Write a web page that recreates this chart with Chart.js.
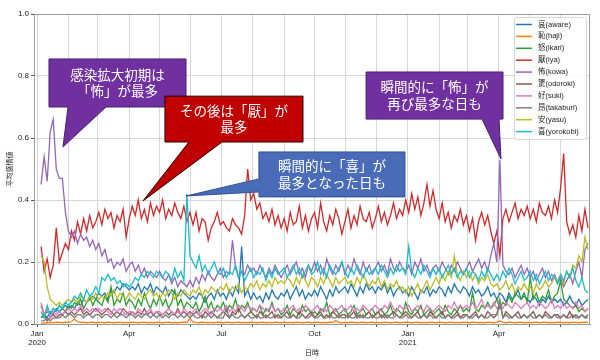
<!DOCTYPE html>
<html>
<head>
<meta charset="utf-8">
<script src="https://cdn.jsdelivr.net/npm/chart.js@4.4.1/dist/chart.umd.min.js"></script>
<style>
  html, body { margin: 0; padding: 0; background: #fff; }
  #wrap { width: 600px; height: 360px; }
  canvas { display: block; }
</style>
</head>
<body>
<div id="wrap"><canvas id="emotionChart" width="600" height="360"></canvas></div>
<script>
// series labels, in legend order
const emotions = ["哀(aware)", "恥(haji)", "怒(ikari)", "厭(iya)", "怖(kowa)",
                  "驚(odoroki)", "好(suki)", "昂(takaburi)", "安(yasu)", "喜(yorokobi)"];

// sampling: first value on 2020-01-05, then every 3 days
const startDate = "2020-01-05";
const stepDays = 3;

// tick labels
const monthNames = ["Jan", "Feb", "Mar", "Apr", "May", "Jun", "Jul", "Aug", "Sep", "Oct", "Nov", "Dec"];
const labelledMonths = [0, 3, 6, 9];

// one row ~ one month (10 samples)
const aware = [
  0.02,0.03,0.02,0.04,0.03,0.05,0.04,0.05,0.06,0.05,
  0.06,0.05,0.07,0.06,0.08,0.07,0.08,0.09,0.08,0.1,
  0.09,0.1,0.08,0.11,0.1,0.12,0.11,0.13,0.12,0.11,
  0.12,0.11,0.13,0.1,0.12,0.11,0.13,0.1,0.12,0.11,
  0.1,0.12,0.09,0.11,0.1,0.09,0.11,0.1,0.09,0.08,
  0.09,0.08,0.1,0.09,0.07,0.09,0.1,0.08,0.11,0.09,
  0.1,0.08,0.11,0.09,0.12,0.1,0.25,0.09,0.11,0.08,
  0.1,0.08,0.09,0.07,0.1,0.08,0.11,0.09,0.08,0.1,
  0.09,0.11,0.08,0.1,0.12,0.09,0.11,0.08,0.1,0.09,
  0.11,0.09,0.12,0.1,0.08,0.11,0.09,0.12,0.1,0.11,
  0.12,0.1,0.13,0.11,0.09,0.12,0.1,0.13,0.11,0.12,
  0.1,0.12,0.11,0.13,0.1,0.12,0.09,0.11,0.12,0.1,
  0.11,0.09,0.12,0.1,0.08,0.11,0.1,0.12,0.09,0.11,
  0.1,0.12,0.11,0.09,0.12,0.1,0.13,0.11,0.1,0.12,
  0.11,0.09,0.12,0.1,0.11,0.09,0.1,0.12,0.09,0.1,
  0.08,0.1,0.09,0.07,0.1,0.08,0.09,0.11,0.08,0.09,
  0.08,0.07,0.09,0.08,0.06,0.08,0.07,0.09,0.07,0.08,
  0.07,0.08,0.06,0.07,0.09,0.07,0.06,0.08,0.06,0.07,
  0.08
];
const haji = [
  0.002,0.003,0.004,0.005,0.004,0.006,0.005,0.004,0.006,0.005,
  0.008,0.016,0.007,0.005,0.006,0.004,0.005,0.006,0.004,0.005,
  0.005,0.004,0.006,0.005,0.004,0.005,0.006,0.004,0.005,0.004,
  0.006,0.005,0.004,0.005,0.006,0.004,0.005,0.004,0.006,0.005,
  0.004,0.005,0.006,0.004,0.005,0.004,0.005,0.006,0.005,0.018,
  0.007,0.005,0.004,0.006,0.005,0.004,0.005,0.004,0.006,0.005,
  0.004,0.006,0.005,0.004,0.005,0.006,0.004,0.005,0.004,0.006,
  0.005,0.004,0.005,0.006,0.004,0.005,0.004,0.006,0.005,0.004,
  0.006,0.004,0.005,0.004,0.006,0.005,0.004,0.005,0.006,0.004,
  0.005,0.006,0.004,0.005,0.004,0.006,0.005,0.011,0.005,0.004,
  0.005,0.004,0.006,0.005,0.004,0.005,0.006,0.004,0.005,0.006,
  0.004,0.005,0.004,0.006,0.005,0.004,0.005,0.006,0.004,0.005,
  0.006,0.005,0.004,0.005,0.006,0.004,0.005,0.004,0.006,0.005,
  0.004,0.006,0.005,0.004,0.005,0.006,0.004,0.005,0.004,0.006,
  0.005,0.004,0.006,0.005,0.004,0.005,0.004,0.006,0.005,0.004,
  0.006,0.01,0.005,0.004,0.006,0.005,0.004,0.005,0.006,0.004,
  0.005,0.004,0.005,0.006,0.004,0.005,0.006,0.004,0.005,0.004,
  0.006,0.005,0.004,0.005,0.004,0.006,0.005,0.004,0.005,0.006,
  0.005
];
const ikari = [
  0.02,0.03,0.04,0.03,0.05,0.04,0.06,0.05,0.04,0.06,
  0.05,0.07,0.06,0.08,0.05,0.07,0.09,0.06,0.08,0.07,
  0.06,0.09,0.07,0.12,0.06,0.08,0.07,0.1,0.06,0.08,
  0.07,0.05,0.08,0.06,0.1,0.07,0.05,0.08,0.06,0.09,
  0.06,0.08,0.05,0.07,0.11,0.06,0.08,0.05,0.07,0.06,
  0.05,0.07,0.04,0.06,0.09,0.05,0.07,0.04,0.06,0.05,
  0.07,0.04,0.06,0.05,0.08,0.04,0.06,0.05,0.07,0.04,
  0.05,0.04,0.06,0.03,0.05,0.04,0.07,0.04,0.05,0.03,
  0.04,0.06,0.03,0.05,0.04,0.03,0.06,0.04,0.05,0.03,
  0.04,0.03,0.05,0.04,0.07,0.03,0.04,0.05,0.03,0.04,
  0.05,0.03,0.04,0.06,0.03,0.04,0.05,0.03,0.04,0.05,
  0.03,0.04,0.05,0.03,0.04,0.06,0.03,0.05,0.04,0.03,
  0.07,0.04,0.03,0.05,0.04,0.06,0.03,0.04,0.05,0.03,
  0.04,0.05,0.03,0.06,0.04,0.03,0.05,0.04,0.06,0.04,
  0.05,0.04,0.1,0.05,0.04,0.06,0.05,0.07,0.05,0.06,
  0.08,0.05,0.07,0.06,0.09,0.07,0.1,0.09,0.08,0.1,
  0.07,0.15,0.08,0.1,0.07,0.09,0.08,0.11,0.07,0.09,
  0.1,0.14,0.08,0.07,0.06,0.05,0.06,0.04,0.05,0.04,
  0.05
];
const iya = [
  0.25,0.17,0.21,0.15,0.19,0.31,0.2,0.23,0.26,0.24,
  0.3,0.27,0.33,0.29,0.34,0.3,0.35,0.31,0.33,0.36,
  0.32,0.37,0.34,0.36,0.31,0.35,0.33,0.37,0.28,0.34,
  0.38,0.35,0.4,0.34,0.37,0.33,0.39,0.35,0.38,0.36,
  0.4,0.34,0.37,0.35,0.39,0.36,0.34,0.38,0.33,0.36,
  0.32,0.36,0.3,0.34,0.33,0.27,0.31,0.33,0.36,0.32,
  0.33,0.31,0.3,0.34,0.32,0.31,0.29,0.35,0.5,0.4,
  0.42,0.37,0.39,0.34,0.36,0.33,0.37,0.32,0.35,0.31,
  0.34,0.3,0.36,0.32,0.33,0.38,0.31,0.35,0.3,0.34,
  0.36,0.31,0.39,0.33,0.3,0.35,0.32,0.37,0.34,0.29,
  0.33,0.37,0.31,0.35,0.32,0.38,0.34,0.33,0.36,0.31,
  0.34,0.38,0.33,0.36,0.32,0.35,0.39,0.34,0.37,0.35,
  0.4,0.36,0.42,0.37,0.41,0.35,0.39,0.45,0.38,0.43,
  0.37,0.34,0.39,0.33,0.36,0.31,0.35,0.33,0.37,0.32,
  0.35,0.3,0.34,0.27,0.33,0.36,0.32,0.35,0.3,0.26,
  0.3,0.22,0.34,0.37,0.33,0.36,0.39,0.34,0.37,0.35,
  0.38,0.34,0.37,0.33,0.39,0.36,0.35,0.38,0.34,0.4,
  0.36,0.44,0.55,0.33,0.29,0.32,0.28,0.35,0.3,0.37,
  0.31
];
const kowa = [
  0.45,0.54,0.46,0.62,0.66,0.5,0.47,0.47,0.36,0.3,
  0.28,0.3,0.26,0.29,0.27,0.28,0.25,0.27,0.24,0.26,
  0.22,0.24,0.2,0.21,0.18,0.2,0.19,0.21,0.17,0.19,
  0.2,0.17,0.19,0.16,0.18,0.15,0.17,0.16,0.15,0.17,
  0.15,0.14,0.16,0.13,0.15,0.12,0.14,0.13,0.12,0.14,
  0.12,0.15,0.13,0.16,0.14,0.17,0.15,0.14,0.16,0.18,
  0.15,0.17,0.16,0.27,0.18,0.15,0.17,0.16,0.19,0.17,
  0.18,0.16,0.19,0.17,0.15,0.18,0.16,0.19,0.17,0.15,
  0.17,0.19,0.16,0.18,0.2,0.16,0.18,0.15,0.19,0.17,
  0.2,0.17,0.19,0.16,0.21,0.18,0.16,0.19,0.17,0.2,
  0.16,0.19,0.17,0.21,0.18,0.16,0.2,0.17,0.19,0.16,
  0.18,0.2,0.17,0.19,0.16,0.21,0.18,0.17,0.2,0.18,
  0.17,0.19,0.16,0.2,0.18,0.21,0.17,0.19,0.16,0.18,
  0.19,0.17,0.2,0.18,0.16,0.19,0.17,0.2,0.18,0.16,
  0.18,0.2,0.17,0.19,0.21,0.18,0.2,0.17,0.22,0.26,
  0.2,0.53,0.19,0.17,0.16,0.18,0.15,0.17,0.19,0.16,
  0.18,0.15,0.17,0.14,0.16,0.18,0.15,0.17,0.14,0.16,
  0.13,0.15,0.12,0.14,0.16,0.13,0.17,0.2,0.15,0.24,
  0.26
];
const odoroki = [
  0.06,0.03,0.01,0.02,0.03,0.02,0.03,0.03,0.04,0.03,
  0.04,0.03,0.04,0.05,0.03,0.04,0.03,0.04,0.05,0.04,
  0.03,0.04,0.05,0.04,0.03,0.04,0.03,0.05,0.04,0.03,
  0.04,0.03,0.04,0.03,0.05,0.03,0.04,0.03,0.04,0.03,
  0.03,0.04,0.03,0.04,0.03,0.05,0.03,0.04,0.03,0.04,
  0.03,0.04,0.03,0.02,0.04,0.03,0.04,0.03,0.02,0.03,
  0.04,0.03,0.02,0.04,0.03,0.05,0.03,0.02,0.03,0.04,
  0.03,0.02,0.04,0.03,0.02,0.03,0.04,0.02,0.03,0.02,
  0.03,0.04,0.02,0.03,0.02,0.04,0.03,0.02,0.03,0.04,
  0.02,0.03,0.04,0.02,0.03,0.02,0.04,0.03,0.02,0.03,
  0.03,0.02,0.03,0.04,0.02,0.03,0.02,0.03,0.04,0.02,
  0.03,0.04,0.02,0.03,0.02,0.03,0.04,0.03,0.02,0.03,
  0.04,0.03,0.02,0.03,0.04,0.02,0.03,0.02,0.04,0.03,
  0.02,0.03,0.04,0.02,0.03,0.02,0.03,0.04,0.02,0.03,
  0.03,0.02,0.03,0.04,0.02,0.03,0.02,0.04,0.03,0.02,
  0.03,0.07,0.02,0.04,0.03,0.02,0.03,0.04,0.02,0.03,
  0.02,0.03,0.04,0.02,0.03,0.02,0.04,0.03,0.02,0.03,
  0.03,0.02,0.03,0.02,0.04,0.02,0.03,0.02,0.03,0.02,
  0.03
];
const suki = [
  0.07,0.03,0.05,0.02,0.04,0.03,0.04,0.03,0.04,0.05,
  0.04,0.05,0.04,0.06,0.04,0.05,0.04,0.05,0.04,0.05,
  0.04,0.05,0.04,0.03,0.05,0.04,0.05,0.04,0.03,0.04,
  0.04,0.03,0.05,0.04,0.03,0.04,0.05,0.03,0.04,0.04,
  0.03,0.04,0.05,0.04,0.03,0.04,0.03,0.05,0.04,0.03,
  0.04,0.05,0.03,0.04,0.05,0.04,0.03,0.05,0.04,0.05,
  0.04,0.06,0.04,0.05,0.04,0.06,0.05,0.04,0.06,0.05,
  0.05,0.04,0.06,0.05,0.04,0.05,0.06,0.04,0.05,0.04,
  0.05,0.04,0.05,0.06,0.04,0.05,0.04,0.06,0.05,0.04,
  0.05,0.06,0.04,0.05,0.04,0.06,0.05,0.04,0.05,0.06,
  0.04,0.05,0.06,0.04,0.05,0.04,0.06,0.05,0.04,0.05,
  0.06,0.05,0.04,0.06,0.05,0.07,0.05,0.04,0.06,0.05,
  0.05,0.06,0.04,0.05,0.06,0.05,0.04,0.06,0.05,0.04,
  0.05,0.06,0.05,0.04,0.06,0.05,0.07,0.05,0.06,0.05,
  0.06,0.05,0.07,0.05,0.06,0.08,0.05,0.06,0.05,0.07,
  0.05,0.06,0.05,0.07,0.06,0.05,0.07,0.06,0.05,0.06,
  0.07,0.05,0.06,0.05,0.07,0.06,0.05,0.06,0.08,0.05,
  0.06,0.05,0.07,0.05,0.06,0.05,0.07,0.05,0.06,0.04,
  0.05
];
const takaburi = [
  0.01,0.01,0.02,0.01,0.02,0.02,0.02,0.03,0.02,0.03,
  0.03,0.02,0.03,0.03,0.02,0.03,0.03,0.02,0.03,0.03,
  0.02,0.03,0.03,0.02,0.03,0.02,0.03,0.03,0.02,0.03,
  0.03,0.02,0.03,0.02,0.03,0.03,0.02,0.03,0.02,0.03,
  0.02,0.03,0.02,0.03,0.03,0.02,0.03,0.02,0.03,0.02,
  0.03,0.02,0.02,0.03,0.02,0.03,0.02,0.03,0.02,0.02,
  0.02,0.05,0.02,0.03,0.02,0.02,0.03,0.02,0.03,0.02,
  0.02,0.03,0.02,0.02,0.03,0.02,0.02,0.03,0.02,0.02,
  0.03,0.02,0.02,0.03,0.02,0.02,0.03,0.02,0.02,0.03,
  0.02,0.02,0.03,0.02,0.02,0.03,0.02,0.02,0.03,0.02,
  0.02,0.03,0.02,0.02,0.03,0.02,0.03,0.02,0.02,0.03,
  0.02,0.02,0.03,0.02,0.03,0.02,0.02,0.03,0.02,0.02,
  0.03,0.02,0.02,0.03,0.02,0.02,0.03,0.02,0.03,0.02,
  0.02,0.03,0.02,0.02,0.03,0.02,0.02,0.03,0.02,0.02,
  0.03,0.02,0.02,0.03,0.02,0.03,0.02,0.02,0.03,0.03,
  0.03,0.08,0.02,0.03,0.02,0.02,0.03,0.02,0.02,0.03,
  0.02,0.03,0.02,0.02,0.03,0.02,0.03,0.02,0.02,0.03,
  0.02,0.02,0.03,0.02,0.02,0.03,0.02,0.02,0.03,0.02,
  0.02
];
const yasu = [
  0.22,0.2,0.12,0.08,0.07,0.06,0.07,0.06,0.07,0.08,
  0.07,0.08,0.07,0.09,0.08,0.07,0.09,0.08,0.1,0.08,
  0.09,0.08,0.1,0.09,0.11,0.08,0.1,0.09,0.08,0.1,
  0.09,0.08,0.1,0.09,0.08,0.1,0.11,0.09,0.1,0.08,
  0.1,0.09,0.11,0.1,0.08,0.1,0.09,0.11,0.1,0.09,
  0.11,0.1,0.12,0.09,0.11,0.1,0.12,0.11,0.1,0.12,
  0.11,0.13,0.1,0.12,0.11,0.13,0.1,0.12,0.11,0.13,
  0.12,0.14,0.11,0.13,0.12,0.14,0.12,0.15,0.13,0.14,
  0.13,0.15,0.14,0.12,0.15,0.13,0.16,0.14,0.12,0.15,
  0.14,0.12,0.15,0.13,0.16,0.14,0.12,0.15,0.13,0.14,
  0.15,0.13,0.14,0.12,0.15,0.13,0.16,0.14,0.12,0.14,
  0.13,0.15,0.12,0.14,0.11,0.13,0.12,0.14,0.11,0.12,
  0.1,0.12,0.09,0.11,0.13,0.1,0.12,0.14,0.11,0.13,
  0.15,0.13,0.16,0.14,0.17,0.15,0.22,0.16,0.14,0.17,
  0.15,0.17,0.14,0.16,0.13,0.15,0.14,0.16,0.13,0.12,
  0.13,0.11,0.12,0.14,0.11,0.13,0.1,0.12,0.11,0.13,
  0.11,0.12,0.1,0.13,0.11,0.12,0.14,0.12,0.13,0.15,
  0.14,0.16,0.13,0.17,0.15,0.19,0.18,0.22,0.2,0.28,
  0.24
];
const yorokobi = [
  0.04,0.02,0.06,0.03,0.05,0.04,0.06,0.05,0.07,0.06,
  0.07,0.09,0.08,0.1,0.08,0.11,0.09,0.1,0.12,0.1,
  0.15,0.14,0.16,0.14,0.15,0.13,0.14,0.12,0.13,0.12,
  0.13,0.15,0.14,0.16,0.15,0.17,0.16,0.15,0.17,0.16,
  0.15,0.17,0.16,0.14,0.18,0.15,0.17,0.14,0.42,0.22,
  0.2,0.18,0.22,0.17,0.19,0.16,0.18,0.2,0.17,0.16,
  0.18,0.15,0.17,0.16,0.19,0.15,0.17,0.14,0.16,0.18,
  0.15,0.17,0.16,0.18,0.14,0.17,0.15,0.18,0.16,0.17,
  0.18,0.15,0.17,0.19,0.16,0.18,0.15,0.17,0.19,0.16,
  0.17,0.2,0.16,0.18,0.15,0.19,0.17,0.16,0.18,0.2,
  0.17,0.15,0.18,0.16,0.19,0.17,0.15,0.18,0.16,0.17,
  0.18,0.16,0.19,0.17,0.15,0.18,0.16,0.19,0.17,0.18,
  0.16,0.25,0.17,0.15,0.18,0.16,0.19,0.17,0.15,0.18,
  0.16,0.18,0.15,0.17,0.19,0.16,0.18,0.15,0.17,0.16,
  0.18,0.15,0.17,0.16,0.14,0.17,0.15,0.18,0.16,0.14,
  0.16,0.14,0.17,0.15,0.18,0.16,0.13,0.15,0.17,0.14,
  0.15,0.17,0.14,0.16,0.13,0.15,0.17,0.14,0.16,0.15,
  0.13,0.16,0.14,0.17,0.15,0.18,0.14,0.12,0.15,0.11,
  0.1
];

const seriesValues = [aware, haji, ikari, iya, kowa, odoroki, suki, takaburi, yasu, yorokobi];
const lineColors = ["#1f77b4", "#ff7f0e", "#2ca02c", "#d62728", "#9467bd",
                    "#8c564b", "#e377c2", "#7f7f7f", "#bcbd22", "#17becf"];

// x axis = days since 2020-01-01
const dayMs = 864e5;
const origin = Date.UTC(2020, 0, 1);
const firstDay = Math.round((Date.parse(startDate + "T00:00:00Z") - origin) / dayMs);
const xMin = -3, xMax = 546;

// month ticks (gridlines every month, labels every quarter)
const monthTicks = [];
for (let y = 2020; y <= 2021; y++) {
    for (let m = 0; m < 12; m++) {
        const d = Math.round((Date.UTC(y, m, 1) - origin) / dayMs);
        if (d >= xMin && d <= xMax) monthTicks.push({ value: d, month: m, year: y });
    }
}

// speech bubbles, placed in data units (day, value)
const callouts = [
    { lines: ["感染拡大初期は", "「怖」が最多"], fill: "#7030a0", stroke: "#4b1f6e",
      box: [11.8, 0.855, 147.1, 0.70], side: "bottom", base: [30.6, 68.1], tip: [25.6, 0.571] },
    { lines: ["その後は「厭」が", "最多"], fill: "#c00000", stroke: "#2a0000",
      box: [126.3, 0.735, 262.6, 0.587], side: "bottom", base: [150.0, 182.6], tip: [104.6, 0.397] },
    { lines: ["瞬間的に「喜」が", "最多となった日も"], fill: "#4a6cb8", stroke: "#34528f",
      box: [219.1, 0.555, 363.3, 0.41], side: "left", base: [0.468, 0.426], tip: [147.1, 0.413] },
    { lines: ["瞬間的に「怖」が", "再び最多な日も"], fill: "#7030a0", stroke: "#4b1f6e",
      box: [324.9, 0.813, 460.1, 0.661], side: "bottom", base: [439.4, 456.2], tip: [458.1, 0.532] },
];

const calloutPlugin = {
    id: "callouts",
    afterDatasetsDraw(chart) {
        const { ctx, scales: { x, y }, chartArea } = chart;
        // plot frame
        ctx.save();
        ctx.strokeStyle = "#9a9a9a";
        ctx.lineWidth = 1;
        ctx.strokeRect(chartArea.left + 0.5, chartArea.top + 0.5,
                       chartArea.right - chartArea.left - 1, chartArea.bottom - chartArea.top);
        ctx.restore();

        callouts.forEach(c => {
            const x0 = x.getPixelForValue(c.box[0]), y0 = y.getPixelForValue(c.box[1]);
            const x1 = x.getPixelForValue(c.box[2]), y1 = y.getPixelForValue(c.box[3]);
            const tx = x.getPixelForValue(c.tip[0]), ty = y.getPixelForValue(c.tip[1]);
            ctx.save();
            ctx.beginPath();
            ctx.moveTo(x0, y0);
            ctx.lineTo(x1, y0);
            ctx.lineTo(x1, y1);
            if (c.side === "bottom") {
                ctx.lineTo(x.getPixelForValue(c.base[1]), y1);
                ctx.lineTo(tx, ty);
                ctx.lineTo(x.getPixelForValue(c.base[0]), y1);
                ctx.lineTo(x0, y1);
            } else {
                ctx.lineTo(x0, y1);
                ctx.lineTo(x0, y.getPixelForValue(c.base[1]));
                ctx.lineTo(tx, ty);
                ctx.lineTo(x0, y.getPixelForValue(c.base[0]));
            }
            ctx.closePath();
            ctx.fillStyle = c.fill;
            ctx.fill();
            ctx.strokeStyle = c.stroke;
            ctx.lineWidth = 1;
            ctx.stroke();

            ctx.fillStyle = "#ffffff";
            ctx.font = '13.5px "Noto Sans CJK JP", sans-serif';
            ctx.textAlign = "center";
            ctx.textBaseline = "middle";
            const cx = (x0 + x1) / 2, cy = (y0 + y1) / 2;
            c.lines.forEach((t, k) => {
                ctx.fillText(t, cx, cy + (k - (c.lines.length - 1) / 2) * 16.5);
            });
            ctx.restore();
        });
    }
};

const legendPlugin = {
    id: "cornerLegend",
    afterDraw(chart) {
        const { ctx, chartArea } = chart;
        const w = 72, h = 122;
        const lx = chartArea.right - 4 - w, ly = chartArea.top + 3;
        ctx.save();
        ctx.beginPath();
        if (ctx.roundRect) ctx.roundRect(lx + 0.5, ly + 0.5, w, h, 2);
        else ctx.rect(lx + 0.5, ly + 0.5, w, h);
        ctx.fillStyle = "rgba(255,255,255,0.85)";
        ctx.fill();
        ctx.strokeStyle = "#d8d8d8";
        ctx.lineWidth = 1;
        ctx.stroke();

        ctx.font = '7.5px "Liberation Sans", "Noto Sans CJK JP", sans-serif';
        ctx.textBaseline = "middle";
        ctx.textAlign = "left";
        chart.data.datasets.forEach((ds, k) => {
            const ry = ly + 7.5 + k * 11.9;
            ctx.strokeStyle = ds.borderColor;
            ctx.lineWidth = 1.5;
            ctx.beginPath();
            ctx.moveTo(lx + 2, ry);
            ctx.lineTo(lx + 18, ry);
            ctx.stroke();
            ctx.fillStyle = "#222";
            ctx.fillText(ds.label, lx + 24, ry);
        });

        // axis titles
        ctx.fillStyle = "#222";
        ctx.font = '7px "Noto Sans CJK JP", sans-serif';
        ctx.textAlign = "center";
        ctx.fillText("日時", (chartArea.left + chartArea.right) / 2, 352);
        ctx.translate(9, (chartArea.top + chartArea.bottom) / 2);
        ctx.rotate(-Math.PI / 2);
        ctx.fillText("平均感情値", 0, 0);
        ctx.restore();
    }
};

const datasets = emotions.map((name, i) => ({
    label: name,
    data: seriesValues[i].map((v, k) => ({ x: firstDay + k * stepDays, y: v })),
    borderColor: lineColors[i],
    backgroundColor: lineColors[i],
    borderWidth: 1.3,
    pointRadius: 0,
    tension: 0,
    fill: false,
    order: emotions.length - 1 - i, // later series on top
}));

Chart.defaults.font.family = '"Liberation Sans", "Noto Sans CJK JP", sans-serif';

new Chart(document.getElementById("emotionChart"), {
    type: "line",
    data: { datasets },
    options: {
        responsive: false,
        animation: false,
        events: [],
        layout: { padding: { top: 14, right: 10, left: 0, bottom: 0 } },
        plugins: { legend: { display: false }, tooltip: { enabled: false } },
        scales: {
            x: {
                type: "linear",
                min: xMin,
                max: xMax,
                afterFit: (s) => { s.height = 36; },
                afterBuildTicks: (axis) => { axis.ticks = monthTicks.map(t => ({ value: t.value })); },
                ticks: {
                    autoSkip: false,
                    maxRotation: 0,
                    padding: 2,
                    color: "#222",
                    font: { size: 8, lineHeight: 1.15 },
                    callback: (value) => {
                        const t = monthTicks.find(mt => mt.value === value);
                        if (!t || !labelledMonths.includes(t.month)) return "";
                        return t.month === 0 ? [monthNames[0], String(t.year)] : monthNames[t.month];
                    },
                },
                grid: { color: "#d6d6d6", lineWidth: 1, tickLength: 3, tickColor: "#555" },
                border: { color: "#9a9a9a" },
            },
            y: {
                min: 0,
                max: 1,
                afterFit: (s) => { s.width = 34; },
                ticks: {
                    stepSize: 0.2,
                    padding: 2,
                    color: "#222",
                    font: { size: 8 },
                    callback: (v) => v.toFixed(1),
                },
                grid: { color: "#d6d6d6", lineWidth: 1, tickLength: 3, tickColor: "#555" },
                border: { color: "#9a9a9a" },
            },
        },
    },
    plugins: [calloutPlugin, legendPlugin],
});
</script>
</body>
</html>
